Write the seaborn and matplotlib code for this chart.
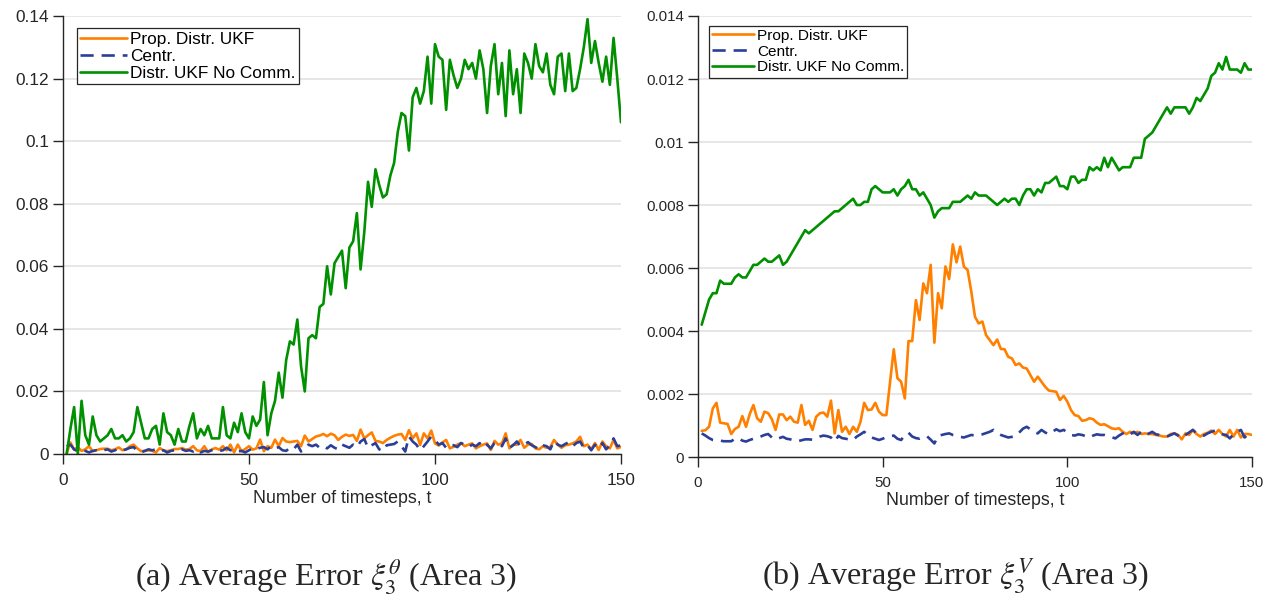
import matplotlib
matplotlib.use("Agg")
import matplotlib.pyplot as plt
from matplotlib.ticker import FuncFormatter
import numpy as np
import pandas as pd
import seaborn as sns

# ---------------------------------------------------------------- data
timesteps = list(range(1, 151))
methods = ["Prop. Distr. UKF", "Centr.", "Distr. UKF No Comm."]

# (a) average angle error, Area 3
theta_prop = [
    0.0003, 0.0037, 0.0014, 0.0022, 0.0010, 0.0015, 0.0025, 0.0009, 0.0012, 0.0016,
    0.0017, 0.0017, 0.0012, 0.0015, 0.0021, 0.0012, 0.0015, 0.0025, 0.0030, 0.0018,
    0.0009, 0.0010, 0.0012, 0.0010, 0.0005, 0.0019, 0.0012, 0.0009, 0.0012, 0.0016,
    0.0016, 0.0019, 0.0014, 0.0016, 0.0025, 0.0012, 0.0009, 0.0025, 0.0006, 0.0015,
    0.0019, 0.0014, 0.0025, 0.0012, 0.0030, 0.0005, 0.0030, 0.0009, 0.0016, 0.0025,
    0.0014, 0.0018, 0.0046, 0.0009, 0.0025, 0.0020, 0.0046, 0.0025, 0.0051, 0.0040,
    0.0038, 0.0040, 0.0042, 0.0025, 0.0059, 0.0040, 0.0048, 0.0056, 0.0059, 0.0064,
    0.0057, 0.0065, 0.0060, 0.0045, 0.0055, 0.0062, 0.0058, 0.0061, 0.0042, 0.0078,
    0.0050, 0.0060, 0.0069, 0.0042, 0.0040, 0.0035, 0.0045, 0.0052, 0.0058, 0.0062,
    0.0064, 0.0045, 0.0076, 0.0050, 0.0066, 0.0029, 0.0066, 0.0050, 0.0075, 0.0034,
    0.0027, 0.0037, 0.0045, 0.0018, 0.0023, 0.0030, 0.0035, 0.0025, 0.0030, 0.0034,
    0.0018, 0.0025, 0.0030, 0.0034, 0.0013, 0.0042, 0.0030, 0.0034, 0.0066, 0.0018,
    0.0030, 0.0030, 0.0045, 0.0020, 0.0030, 0.0032, 0.0018, 0.0015, 0.0025, 0.0020,
    0.0022, 0.0045, 0.0030, 0.0020, 0.0028, 0.0030, 0.0034, 0.0040, 0.0055, 0.0025,
    0.0030, 0.0015, 0.0035, 0.0013, 0.0040, 0.0025, 0.0018, 0.0045, 0.0018, 0.0023,
]
theta_centr = [
    0.0025, 0.0030, 0.0015, 0.0008, 0.0012, 0.0010, 0.0005, 0.0010, 0.0012, 0.0008,
    0.0012, 0.0015, 0.0008, 0.0012, 0.0018, 0.0012, 0.0015, 0.0020, 0.0022, 0.0010,
    0.0005, 0.0010, 0.0015, 0.0012, 0.0015, 0.0008, 0.0012, 0.0005, 0.0010, 0.0012,
    0.0008, 0.0015, 0.0010, 0.0012, 0.0008, 0.0015, 0.0005, 0.0010, 0.0008, 0.0012,
    0.0015, 0.0010, 0.0012, 0.0020, 0.0012, 0.0015, 0.0008, 0.0010, 0.0005, 0.0012,
    0.0018, 0.0015, 0.0020, 0.0022, 0.0015, 0.0025, 0.0018, 0.0022, 0.0012, 0.0010,
    0.0020, 0.0015, 0.0030, 0.0008, 0.0020, 0.0030, 0.0025, 0.0030, 0.0020, 0.0025,
    0.0018, 0.0028, 0.0020, 0.0015, 0.0030, 0.0025, 0.0020, 0.0030, 0.0022, 0.0040,
    0.0048, 0.0020, 0.0028, 0.0035, 0.0015, 0.0010, 0.0028, 0.0030, 0.0032, 0.0040,
    0.0025, 0.0008, 0.0056, 0.0040, 0.0030, 0.0012, 0.0025, 0.0040, 0.0056, 0.0045,
    0.0030, 0.0035, 0.0020, 0.0030, 0.0028, 0.0022, 0.0035, 0.0030, 0.0022, 0.0030,
    0.0025, 0.0035, 0.0020, 0.0030, 0.0018, 0.0035, 0.0038, 0.0025, 0.0050, 0.0020,
    0.0028, 0.0040, 0.0025, 0.0030, 0.0038, 0.0028, 0.0022, 0.0015, 0.0028, 0.0025,
    0.0015, 0.0042, 0.0030, 0.0025, 0.0032, 0.0038, 0.0025, 0.0035, 0.0040, 0.0020,
    0.0028, 0.0012, 0.0030, 0.0018, 0.0035, 0.0015, 0.0028, 0.0050, 0.0025, 0.0028,
]
theta_nocomm = [
    0.000, 0.008, 0.015, 0.000, 0.017, 0.006, 0.003, 0.012, 0.006, 0.004,
    0.005, 0.006, 0.008, 0.005, 0.005, 0.006, 0.004, 0.005, 0.007, 0.015,
    0.010, 0.005, 0.005, 0.008, 0.009, 0.003, 0.013, 0.007, 0.006, 0.003,
    0.008, 0.004, 0.004, 0.009, 0.013, 0.005, 0.008, 0.006, 0.009, 0.005,
    0.005, 0.005, 0.015, 0.006, 0.005, 0.010, 0.007, 0.013, 0.007, 0.005,
    0.012, 0.009, 0.011, 0.023, 0.006, 0.013, 0.017, 0.026, 0.018, 0.030,
    0.036, 0.035, 0.043, 0.028, 0.020, 0.037, 0.038, 0.037, 0.047, 0.048,
    0.060, 0.051, 0.061, 0.063, 0.065, 0.053, 0.066, 0.068, 0.077, 0.059,
    0.071, 0.087, 0.079, 0.091, 0.086, 0.082, 0.083, 0.089, 0.093, 0.103,
    0.109, 0.108, 0.097, 0.114, 0.117, 0.112, 0.116, 0.127, 0.112, 0.131,
    0.127, 0.126, 0.110, 0.126, 0.121, 0.117, 0.120, 0.126, 0.123, 0.125,
    0.120, 0.129, 0.123, 0.109, 0.124, 0.131, 0.115, 0.125, 0.108, 0.129,
    0.115, 0.123, 0.109, 0.128, 0.125, 0.120, 0.131, 0.124, 0.122, 0.128,
    0.118, 0.115, 0.127, 0.128, 0.116, 0.128, 0.116, 0.117, 0.123, 0.130,
    0.139, 0.125, 0.132, 0.125, 0.119, 0.127, 0.118, 0.133, 0.120, 0.106,
]

# (b) average voltage error, Area 3
volt_prop = [
    0.00083, 0.00085, 0.00096, 0.00154, 0.00172, 0.00109, 0.00107, 0.00105, 0.00073, 0.00089,
    0.00096, 0.00130, 0.00096, 0.00136, 0.00165, 0.00123, 0.00112, 0.00144, 0.00139, 0.00120,
    0.00086, 0.00135, 0.00135, 0.00117, 0.00128, 0.00112, 0.00109, 0.00165, 0.00102, 0.00115,
    0.00086, 0.00128, 0.00139, 0.00141, 0.00128, 0.00179, 0.00075, 0.00149, 0.00080, 0.00096,
    0.00073, 0.00096, 0.00080, 0.00112, 0.00172, 0.00149, 0.00151, 0.00172, 0.00144, 0.00133,
    0.00133, 0.00239, 0.00342, 0.00250, 0.00239, 0.00186, 0.00368, 0.00368, 0.00498, 0.00435,
    0.00551, 0.00520, 0.00610, 0.00363, 0.00520, 0.00472, 0.00605, 0.00565, 0.00675, 0.00618,
    0.00668, 0.00604, 0.00594, 0.00525, 0.00445, 0.00424, 0.00430, 0.00387, 0.00371, 0.00355,
    0.00373, 0.00343, 0.00342, 0.00318, 0.00313, 0.00292, 0.00297, 0.00284, 0.00281, 0.00260,
    0.00239, 0.00255, 0.00239, 0.00223, 0.00211, 0.00209, 0.00207, 0.00181, 0.00194, 0.00176,
    0.00149, 0.00133, 0.00130, 0.00115, 0.00117, 0.00123, 0.00120, 0.00109, 0.00102, 0.00104,
    0.00098, 0.00091, 0.00089, 0.00091, 0.00080, 0.00073, 0.00080, 0.00075, 0.00080, 0.00073,
    0.00075, 0.00073, 0.00073, 0.00070, 0.00068, 0.00065, 0.00065, 0.00073, 0.00075, 0.00070,
    0.00056, 0.00075, 0.00070, 0.00086, 0.00073, 0.00065, 0.00073, 0.00077, 0.00084, 0.00073,
    0.00086, 0.00073, 0.00065, 0.00086, 0.00065, 0.00086, 0.00062, 0.00073, 0.00073, 0.00070,
]
volt_centr = [
    0.00075, 0.00068, 0.00060, 0.00054, 0.00052, 0.00052, 0.00050, 0.00050, 0.00050, 0.00058,
    0.00060, 0.00052, 0.00049, 0.00054, 0.00058, 0.00060, 0.00065, 0.00070, 0.00073, 0.00062,
    0.00056, 0.00060, 0.00064, 0.00058, 0.00056, 0.00052, 0.00050, 0.00053, 0.00056, 0.00056,
    0.00055, 0.00060, 0.00065, 0.00068, 0.00066, 0.00062, 0.00049, 0.00067, 0.00060, 0.00058,
    0.00055, 0.00054, 0.00065, 0.00072, 0.00080, 0.00070, 0.00062, 0.00058, 0.00054, 0.00058,
    0.00063, 0.00066, 0.00068, 0.00058, 0.00054, 0.00070, 0.00077, 0.00065, 0.00060, 0.00058,
    0.00062, 0.00066, 0.00055, 0.00043, 0.00067, 0.00070, 0.00073, 0.00075, 0.00070, 0.00068,
    0.00064, 0.00062, 0.00066, 0.00070, 0.00068, 0.00070, 0.00072, 0.00076, 0.00080, 0.00086,
    0.00076, 0.00070, 0.00066, 0.00062, 0.00064, 0.00066, 0.00078, 0.00090, 0.00096, 0.00088,
    0.00080, 0.00075, 0.00086, 0.00078, 0.00072, 0.00080, 0.00088, 0.00082, 0.00086, 0.00078,
    0.00070, 0.00068, 0.00072, 0.00070, 0.00066, 0.00062, 0.00068, 0.00072, 0.00070, 0.00070,
    0.00066, 0.00063, 0.00059, 0.00068, 0.00075, 0.00080, 0.00072, 0.00080, 0.00070, 0.00080,
    0.00070, 0.00074, 0.00080, 0.00072, 0.00070, 0.00068, 0.00065, 0.00070, 0.00075, 0.00068,
    0.00060, 0.00070, 0.00078, 0.00086, 0.00075, 0.00070, 0.00068, 0.00075, 0.00080, 0.00084,
    0.00076, 0.00072, 0.00070, 0.00059, 0.00072, 0.00080, 0.00086, 0.00062, 0.00072, 0.00070,
]
volt_nocomm = [
    0.0042, 0.0046, 0.0050, 0.0052, 0.0052, 0.0056, 0.0055, 0.0055, 0.0055, 0.0057,
    0.0058, 0.0057, 0.0057, 0.0059, 0.0061, 0.0061, 0.0062, 0.0063, 0.0062, 0.0062,
    0.0063, 0.0064, 0.0061, 0.0062, 0.0064, 0.0066, 0.0068, 0.0070, 0.0072, 0.0071,
    0.0072, 0.0073, 0.0074, 0.0075, 0.0076, 0.0077, 0.0078, 0.0078, 0.0079, 0.0080,
    0.0081, 0.0082, 0.0080, 0.0080, 0.0081, 0.0081, 0.0085, 0.0086, 0.0085, 0.0084,
    0.0084, 0.0084, 0.0085, 0.0083, 0.0085, 0.0086, 0.0088, 0.0085, 0.0085, 0.0083,
    0.0084, 0.0082, 0.0080, 0.0076, 0.0078, 0.0079, 0.0079, 0.0079, 0.0081, 0.0081,
    0.0081, 0.0082, 0.0083, 0.0082, 0.0084, 0.0083, 0.0083, 0.0083, 0.0082, 0.0081,
    0.0080, 0.0081, 0.0082, 0.0081, 0.0082, 0.0082, 0.0080, 0.0083, 0.0085, 0.0085,
    0.0083, 0.0085, 0.0084, 0.0087, 0.0087, 0.0088, 0.0089, 0.0086, 0.0086, 0.0085,
    0.0089, 0.0089, 0.0087, 0.0088, 0.0088, 0.0092, 0.0091, 0.0092, 0.0091, 0.0095,
    0.0092, 0.0095, 0.0093, 0.0091, 0.0092, 0.0092, 0.0092, 0.0095, 0.0095, 0.0095,
    0.0101, 0.0102, 0.0103, 0.0105, 0.0107, 0.0109, 0.0111, 0.0109, 0.0111, 0.0111,
    0.0111, 0.0111, 0.0109, 0.0111, 0.0114, 0.0113, 0.0115, 0.0117, 0.0121, 0.0122,
    0.0125, 0.0123, 0.0127, 0.0123, 0.0123, 0.0123, 0.0122, 0.0125, 0.0123, 0.0123,
]

theta_yticks = [0, 0.02, 0.04, 0.06, 0.08, 0.10, 0.12, 0.14]
volt_yticks = [0, 0.002, 0.004, 0.006, 0.008, 0.010, 0.012, 0.014]
xticks = [0, 50, 100, 150]
xlabel = "Number of timesteps, t"
captions = [r"(a) Average Error $\xi_3^\theta$ (Area 3)",
            r"(b) Average Error $\xi_3^V$ (Area 3)"]

# ---------------------------------------------------------------- style
sns.set_style("white")
plt.rcParams["font.family"] = ["Liberation Sans", "DejaVu Sans"]
plt.rcParams["mathtext.fontset"] = "stix"

INK = "#262626"
palette = {methods[0]: "#ff8000", methods[1]: "#2b3f99", methods[2]: "#009000"}
dashes = {methods[0]: "", methods[1]: (5, 3), methods[2]: ""}


def long_frame(prop, centr, nocomm):
    parts = []
    for name, vals in zip(methods, (prop, centr, nocomm)):
        parts.append(pd.DataFrame({"t": timesteps, "err": vals, "method": name}))
    return pd.concat(parts, ignore_index=True)


def draw_panel(ax, frame, yticks, fs_tick, fs_leg, leg_anchor):
    sns.lineplot(data=frame, x="t", y="err", hue="method", style="method",
                 hue_order=methods, style_order=methods, palette=palette,
                 dashes=dashes, linewidth=1.9, errorbar=None, ax=ax)
    ax.set_xlim(0, 150)
    ax.set_ylim(yticks[0], yticks[-1])
    ax.set_xticks(xticks)
    ax.set_yticks(yticks)
    ax.yaxis.set_major_formatter(FuncFormatter(lambda v, _: "%g" % v))
    for side in ("top", "right"):
        ax.spines[side].set_visible(False)
    for side in ("left", "bottom"):
        ax.spines[side].set_color(INK)
        ax.spines[side].set_linewidth(1.0)
    ax.tick_params(bottom=True, left=True, top=False, right=False,
                   direction="out", length=7.5, width=1.0, color=INK,
                   labelcolor=INK, labelsize=fs_tick)
    ax.tick_params(axis="y", pad=2.5)
    ax.tick_params(axis="x", pad=6.5)
    ax.yaxis.grid(True, color="#e2e2e2", linewidth=1.2)
    ax.xaxis.grid(False)
    ax.set_axisbelow(True)
    ax.set_xlabel(xlabel, fontsize=12.8, color=INK, labelpad=1)
    ax.set_ylabel("")
    handles, labels = ax.get_legend_handles_labels()
    leg = ax.legend(handles, labels, loc="upper left", bbox_to_anchor=leg_anchor,
                    fontsize=fs_leg, frameon=True, fancybox=False,
                    edgecolor=INK, framealpha=1, borderpad=0.2,
                    labelspacing=0.12, handlelength=2.7, handletextpad=0.2,
                    borderaxespad=0)
    leg.get_frame().set_linewidth(0.9)
    for txt in leg.get_texts():
        txt.set_color("black")


fig = plt.figure(figsize=(12.77, 5.97), dpi=100)
ax_a = fig.add_axes([0.0493, 0.2395, 0.4370, 0.7337])
ax_b = fig.add_axes([0.5466, 0.2345, 0.4338, 0.7387])

draw_panel(ax_a, long_frame(theta_prop, theta_centr, theta_nocomm),
           theta_yticks, 12.4, 12.4, (0.025, 0.972))
draw_panel(ax_b, long_frame(volt_prop, volt_centr, volt_nocomm),
           volt_yticks, 10.8, 11.1, (0.02, 0.978))

for xc, text in zip((325.5 / 1277, 955 / 1277), captions):
    fig.text(xc, 1 - 576 / 597, text, ha="center", va="center",
             fontsize=23, family=["Liberation Serif", "DejaVu Serif"])

fig.savefig("out.png", dpi=100)
